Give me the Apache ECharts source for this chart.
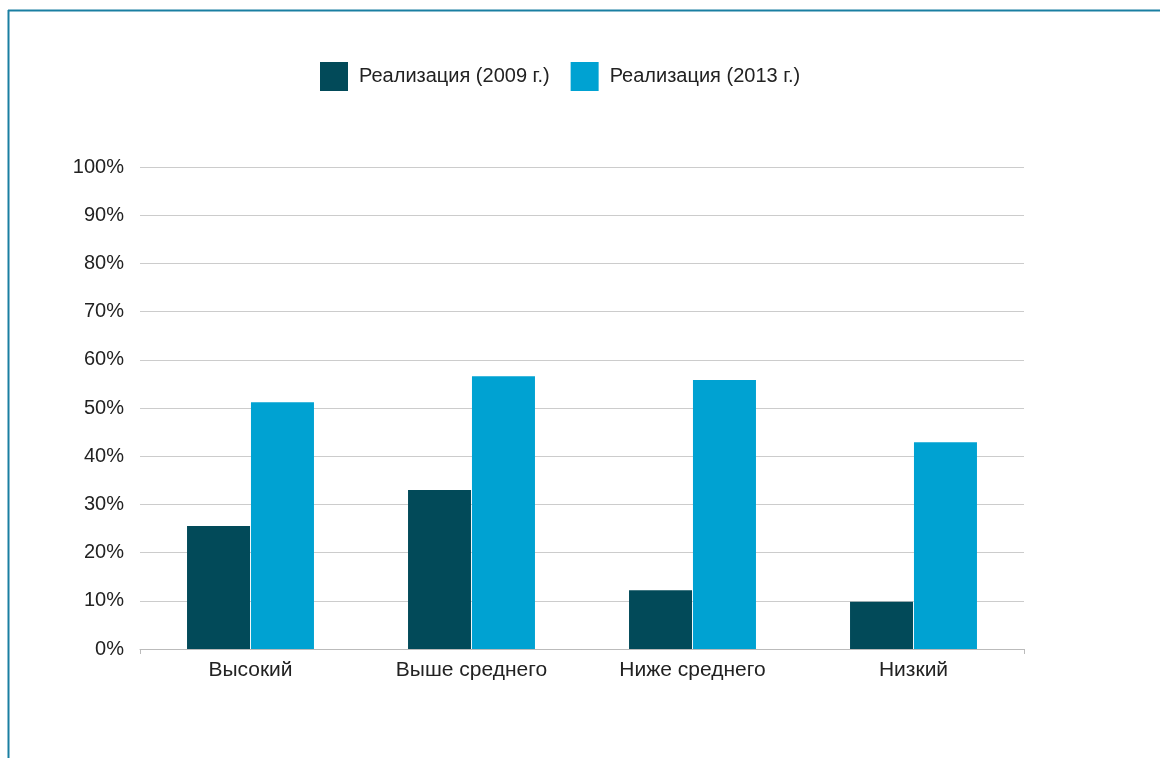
<!DOCTYPE html>
<html>
<head>
<meta charset="utf-8">
<script src="https://cdn.jsdelivr.net/npm/echarts@6/dist/echarts.min.js"></script>
<style>
    html, body { margin: 0; padding: 0; background: #fff; }
    #chart { width: 1160px; height: 758px; }
</style>
</head>
<body>
<div id="chart"></div>
<script>
    // категории и значения
    const categories = ['Высокий', 'Выше среднего', 'Ниже среднего', 'Низкий'];
    const seriesNames = ['Реализация (2009 г.)', 'Реализация (2013 г.)'];
    const values2009 = [25.5, 33.0, 12.2, 9.8];
    const values2013 = [51.2, 56.6, 55.8, 42.9];

    const chart = echarts.init(document.getElementById('chart'));
    const font = '"Liberation Sans", Arial, sans-serif';

    chart.setOption({
        backgroundColor: '#ffffff',
        animation: false,
        textStyle: { fontFamily: font },
        graphic: [
            { type: 'line', shape: { x1: 8, y1: 10.5, x2: 1160, y2: 10.5 }, style: { stroke: '#1a7fa2', lineWidth: 2 } },
            { type: 'line', shape: { x1: 8.5, y1: 10, x2: 8.5, y2: 758 }, style: { stroke: '#1a7fa2', lineWidth: 2 } }
        ],
        legend: {
            top: 57,
            left: 315,
            itemWidth: 28,
            itemHeight: 29,
            itemGap: 21,
            icon: 'rect',
            textStyle: { fontSize: 20, color: '#222', fontFamily: font, padding: [0, 0, 0, 6] },
            data: seriesNames
        },
        grid: { left: 140, right: 136, top: 167, bottom: 109 },
        xAxis: {
            type: 'category',
            data: categories,
            axisLine: { lineStyle: { color: '#bbbbbb' } },
            axisTick: { show: true, length: 5, lineStyle: { color: '#bbbbbb' },
                interval: function (i) { return i === 0; } },
            axisLabel: { fontSize: 21, color: '#222', margin: 11 }
        },
        yAxis: {
            type: 'value',
            min: 0,
            max: 100,
            interval: 10,
            axisLine: { show: false },
            axisTick: { show: false },
            axisLabel: { fontSize: 20, color: '#222', margin: 16, formatter: '{value}%' },
            splitLine: { lineStyle: { color: '#cccccc' } }
        },
        series: [
            { name: seriesNames[0], type: 'bar', data: values2009, barWidth: 63, barGap: '1.5%', itemStyle: { color: '#024a59' } },
            { name: seriesNames[1], type: 'bar', data: values2013, barWidth: 63, itemStyle: { color: '#00a2d2' } }
        ]
    });
</script>
</body>
</html>
